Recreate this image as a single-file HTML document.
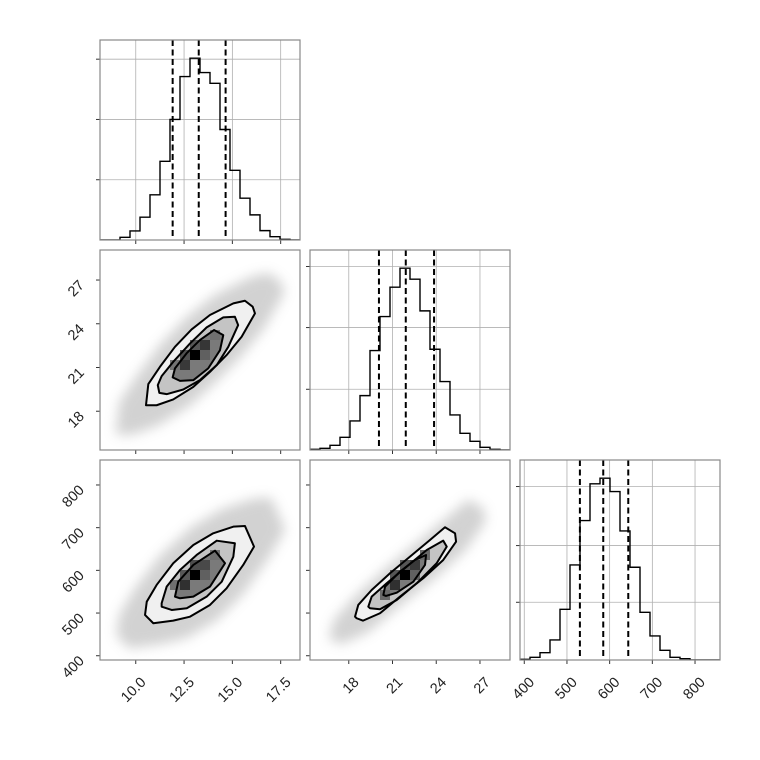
<!DOCTYPE html>
<html><head><meta charset="utf-8"><style>
html,body{margin:0;padding:0;background:#fff}
svg{display:block}
text{font-family:"Liberation Sans",sans-serif;font-size:14.5px;fill:#222}
</style></head><body>
<svg id="fig" width="760" height="760" viewBox="0 0 760 760" xmlns="http://www.w3.org/2000/svg">
<defs><filter id="blur" x="-50%" y="-50%" width="200%" height="200%"><feGaussianBlur stdDeviation="6"/></filter></defs>
</svg>
<script>
// ---------- data ----------
const rangeA = [8.15, 18.5];
const rangeB = [15.34, 29.06];
const rangeC = [390, 858.5];
const ticksA = [10.0, 12.5, 15.0, 17.5];
const tickLabelsA = ["10.0", "12.5", "15.0", "17.5"];
const ticksB = [18, 21, 24, 27];
const tickLabelsB = ["18", "21", "24", "27"];
const ticksC = [400, 500, 600, 700, 800];
const tickLabelsC = ["400", "500", "600", "700", "800"];

const histA = [0,0,8,27,68,135,235,360,488,543,500,468,330,208,125,75,28,10,2,0];
const histB = [2,5,14,38,87,163,298,400,488,545,512,417,302,205,105,50,26,8,2,0];
const histC = [2,8,22,60,152,285,418,528,545,505,387,278,143,72,29,8,4,0,0,0];
const histTicksA = [180, 360, 540];
const histTicksB = [182, 367, 550];
const histTicksC = [173, 343, 520];
const quantA = [11.91, 13.26, 14.65];
const quantB = [20.07, 21.91, 23.85];
const quantC = [530.3, 585.0, 643.6];

// contours (data units) panel B-vs-A
const contBA1 = [[10.53,18.41],[10.65,19.86],[11.25,21.04],[12.03,22.42],[12.89,23.61],[13.84,24.60],[15.05,25.40],[15.65,25.58],[16.05,25.17],[16.17,24.71],[15.48,23.11],[14.70,21.85],[13.84,20.70],[12.98,19.67],[11.94,18.81],[11.08,18.41]];
const contBA2 = [[11.14,19.79],[11.34,20.41],[11.94,21.39],[12.81,22.65],[13.67,23.75],[14.53,24.44],[15.13,24.48],[15.30,23.91],[14.79,22.42],[14.19,21.16],[13.32,20.13],[12.46,19.49],[11.60,19.17],[11.22,19.26]];
const contBA3 = [[11.91,20.32],[12.03,20.94],[12.63,21.97],[13.32,22.88],[14.05,23.57],[14.53,23.22],[14.36,22.19],[13.75,20.94],[12.98,20.13],[12.29,20.08]];
// panel C-vs-A
const contCA1 = [[10.48,495.5],[10.57,526.6],[11.08,565.8],[11.94,616.6],[12.98,659.4],[14.01,686.8],[15.05,702.3],[15.65,704.0],[16.12,655.5],[15.56,612.6],[14.70,558.0],[13.84,518.9],[12.81,491.5],[11.94,482.2],[10.91,476.1]];
const contCA2 = [[11.34,522.9],[11.60,561.8],[12.29,600.9],[13.15,636.0],[14.19,669.5],[15.13,663.4],[15.05,632.1],[14.45,573.5],[13.67,538.4],[12.64,511.2],[11.86,507.2],[11.34,514.9]];
const contCA3 = [[12.03,538.4],[12.20,573.5],[12.98,612.6],[14.10,646.1],[14.62,616.6],[13.84,561.8],[12.98,538.4],[12.29,534.6]];
// panel C-vs-B
const contCB1 = [[18.43,491.5],[18.65,518.9],[19.57,554.0],[20.83,593.2],[22.20,632.1],[23.57,671.2],[24.60,700.9],[25.29,686.8],[25.36,667.2],[24.48,624.3],[23.11,581.5],[21.51,538.4],[20.14,499.5],[18.98,482.2],[18.54,487.8]];
const contCB2 = [[19.34,514.9],[19.57,538.4],[20.60,569.7],[21.97,608.6],[23.35,647.7],[24.48,669.5],[24.72,655.5],[24.03,616.6],[22.66,569.7],[21.29,530.6],[20.14,508.9],[19.46,511.2]];
const contCB3 = [[20.37,542.3],[20.49,561.8],[21.51,597.0],[22.54,624.3],[23.30,636.0],[23.23,612.6],[22.43,573.5],[21.29,547.7],[20.55,540.0]];

// dark 2D-histogram cells: bin index x, bin index y (from bottom), darkness
const cellsBA_i = [9,10,8,9,8,10,11,7];
const cellsBA_j = [9,10,8,10,9,9,11,8];
const cellsBA_v = [1.0,0.72,0.7,0.55,0.58,0.5,0.42,0.4];
const cellsCA_i = [9,8,10,9,8,10,11,7];
const cellsCA_j = [8,7,9,9,8,8,10,7];
const cellsCA_v = [1.0,0.75,0.62,0.6,0.55,0.5,0.42,0.42];
const cellsCB_i = [9,8,10,9,8,7,11,10];
const cellsCB_j = [8,7,9,9,8,6,10,8];
const cellsCB_v = [1.0,0.75,0.7,0.55,0.55,0.45,0.45,0.5];

// ---------- drawing ----------
const NS = "http://www.w3.org/2000/svg";
const svg = document.getElementById("fig");
const colLeft = [100, 310, 520];
const rowTop = [40, 250, 460];
const S = 200;
function mk(tag, attrs, parent) {
  const e = document.createElementNS(NS, tag);
  for (const k in attrs) e.setAttribute(k, attrs[k]);
  (parent || svg).appendChild(e);
  return e;
}
function xScale(col, range) { return v => colLeft[col] + (v - range[0]) / (range[1] - range[0]) * S; }
function yScale(row, range) { return v => rowTop[row] + S - (v - range[0]) / (range[1] - range[0]) * S; }

function panelBox(col, row, name) {
  const g = mk("g", {});
  
  
  const cp = mk("clipPath", {id: "clip" + col + row}, g);
  mk("rect", {x: colLeft[col], y: rowTop[row], width: S, height: S}, cp);
  return g;
}
function spine(col, row, g) {
  const r = mk("rect", {x: colLeft[col], y: rowTop[row], width: S, height: S, fill: "none", stroke: "#888", "stroke-width": 1.2}, g);
  
  
}
function xTicks(col, row, sx, ticks, labels, g, grid, showLabels) {
  ticks.forEach((t, k) => {
    const x = sx(t);
    if (grid) mk("line", {x1: x, x2: x, y1: rowTop[row], y2: rowTop[row] + S, stroke: "#b0b0b0", "stroke-width": 0.8}, g);
    mk("line", {x1: x, x2: x, y1: rowTop[row] + S, y2: rowTop[row] + S + 4, stroke: "#333", "stroke-width": 1}, g);
    if (showLabels) {
      const tx = x + 11, ty = rowTop[row] + S + 23;
      const el = mk("text", {x: tx, y: ty, "text-anchor": "end", transform: `rotate(-45 ${tx} ${ty})`}, g);
      el.textContent = labels[k];
      
      
    }
  });
}
function yTicks(col, row, sy, ticks, labels, g, grid, showLabels) {
  ticks.forEach((t, k) => {
    const y = sy(t);
    if (grid) mk("line", {x1: colLeft[col], x2: colLeft[col] + S, y1: y, y2: y, stroke: "#b0b0b0", "stroke-width": 0.8}, g);
    mk("line", {x1: colLeft[col] - 4, x2: colLeft[col], y1: y, y2: y, stroke: "#333", "stroke-width": 1}, g);
    if (showLabels) {
      const tx = colLeft[col] - 15, ty = y + 6;
      const el = mk("text", {x: tx, y: ty, "text-anchor": "end", transform: `rotate(-45 ${tx} ${ty})`}, g);
      el.textContent = labels[k];
      
      
    }
  });
}

function drawHist(col, counts, range, hticks, quant, xt, xtl, showX, name) {
  const row = col;
  const g = panelBox(col, row, name);
  const sx = xScale(col, range);
  const ymax = Math.max(...counts) * 1.1;
  const sy = yScale(row, [0, ymax]);
  xTicks(col, row, sx, xt, xtl, g, true, showX);
  yTicks(col, row, sy, hticks, [], g, true, false);
  const w = (range[1] - range[0]) / counts.length;
  let d = "";
  counts.forEach((c, i) => {
    const x0 = sx(range[0] + i * w), x1 = sx(range[0] + (i + 1) * w), y = sy(c);
    d += (i === 0 ? `M${x0},${y}` : `L${x0},${y}`) + `L${x1},${y}`;
  });
  const p = mk("path", {d, fill: "none", stroke: "#000", "stroke-width": 1.4, "clip-path": `url(#clip${col}${row})`}, g);
  
  
  quant.forEach(q => {
    const l = mk("line", {x1: sx(q), x2: sx(q), y1: rowTop[row], y2: rowTop[row] + S, stroke: "#000", "stroke-width": 2, "stroke-dasharray": "6,3.5"}, g);
    
    
  });
  spine(col, row, g);
}

function drawScatter(col, row, rx, ry, c1, c2, c3, ci, cj, cv, xt, xtl, yt, ytl, showX, showY, name) {
  const g = panelBox(col, row, name);
  const sx = xScale(col, rx), sy = yScale(row, ry);
  const inner = mk("g", {"clip-path": `url(#clip${col}${row})`}, g);
  const pts = c => c.map(p => `${sx(p[0])},${sy(p[1])}`).join(" ");
  // point cloud (blurred envelope around outer contour)
  const cx = c1.reduce((a, p) => a + p[0], 0) / c1.length;
  const cy = c1.reduce((a, p) => a + p[1], 0) / c1.length;
  const cloud = c1.map(p => `${sx(cx + (p[0] - cx) * 1.55)},${sy(cy + (p[1] - cy) * 1.55)}`).join(" ");
  const cl = mk("polygon", {points: cloud, fill: "#8a8a8a", opacity: 0.38, filter: "url(#blur)"}, inner);
  
  
  mk("polygon", {points: pts(c1), fill: "#f0f0f0"}, inner);
  mk("polygon", {points: pts(c2), fill: "#c4c4c4"}, inner);
  mk("polygon", {points: pts(c3), fill: "#7a7a7a"}, inner);
  const bw = (rx[1] - rx[0]) / 20, bh = (ry[1] - ry[0]) / 20;
  ci.forEach((i, k) => {
    const x0 = sx(rx[0] + i * bw), x1 = sx(rx[0] + (i + 1) * bw);
    const y0 = sy(ry[0] + (cj[k] + 1) * bh), y1 = sy(ry[0] + cj[k] * bh);
    const v = Math.round(255 * (1 - cv[k]) * 0.75);
    const r = mk("rect", {x: x0, y: y0, width: x1 - x0, height: y1 - y0, fill: `rgb(${v},${v},${v})`}, inner);
    
    
  });
  [c1, c2, c3].forEach(c => {
    const p = mk("polygon", {points: pts(c), fill: "none", stroke: "#000", "stroke-width": 2, "stroke-linejoin": "round"}, inner);
    
    
  });
  xTicks(col, row, sx, xt, xtl, g, false, showX);
  yTicks(col, row, sy, yt, ytl, g, false, showY);
  spine(col, row, g);
}

drawHist(0, histA, rangeA, histTicksA, quantA, ticksA, tickLabelsA, false, "histogram-param-1");
drawHist(1, histB, rangeB, histTicksB, quantB, ticksB, tickLabelsB, false, "histogram-param-2");
drawHist(2, histC, rangeC, histTicksC, quantC, ticksC, tickLabelsC, true, "histogram-param-3");
drawScatter(0, 1, rangeA, rangeB, contBA1, contBA2, contBA3, cellsBA_i, cellsBA_j, cellsBA_v, ticksA, tickLabelsA, ticksB, tickLabelsB, false, true, "scatter-param2-vs-param1");
drawScatter(0, 2, rangeA, rangeC, contCA1, contCA2, contCA3, cellsCA_i, cellsCA_j, cellsCA_v, ticksA, tickLabelsA, ticksC, tickLabelsC, true, true, "scatter-param3-vs-param1");
drawScatter(1, 2, rangeB, rangeC, contCB1, contCB2, contCB3, cellsCB_i, cellsCB_j, cellsCB_v, ticksB, tickLabelsB, ticksC, tickLabelsC, true, false, "scatter-param3-vs-param2");
</script>
</body></html>
